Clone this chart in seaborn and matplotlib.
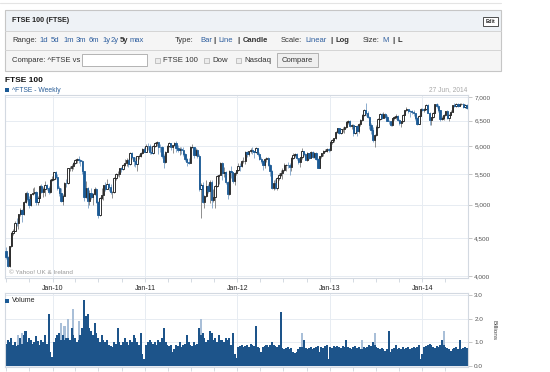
import numpy as np
import pandas as pd
import matplotlib
matplotlib.use("Agg")
import matplotlib.pyplot as plt
import matplotlib.dates as mdates
import matplotlib.ticker as mticker
from matplotlib.patches import Rectangle
import seaborn as sns

# weekly FTSE 100 candles, Jul 2009 - Jun 2014
opens = [
    4330, 4243, 4128, 4389, 4577, 4608, 4722, 4718, 4851, 4909, 4852, 5044, 5190, 5082, 4988, 5162, 5190, 5200, 5045, 5105, 5297, 5194, 5245, 5322, 5261, 5197, 5402,
    5413, 5534, 5456, 5260, 5189, 5061, 5142, 5358, 5355, 5600, 5600, 5650, 5703, 5745, 5770, 5744, 5723, 5553, 5123, 5262, 5063, 5188, 5126, 5163, 5250, 5046,
    4838, 5106, 5159, 5313, 5258, 5332, 5275, 5195, 5201, 5440, 5502, 5509, 5598, 5592, 5657, 5703, 5741, 5675, 5876, 5797, 5733, 5669, 5812, 5812, 5871, 5955,
    5900, 6005, 6002, 5897, 5881, 6000, 6061, 6083, 5996, 5990, 5829, 5718, 5900, 6009, 6055, 5996, 6018, 6070, 5976, 5925, 5949, 5938, 5855, 5766, 5714, 5697,
    5990, 5991, 5844, 5935, 5815, 5247, 5320, 5040, 5130, 5292, 5215, 5368, 5067, 5128, 5303, 5467, 5488, 5702, 5527, 5545, 5362, 5164, 5552, 5529, 5387, 5512,
    5572, 5650, 5636, 5728, 5734, 5901, 5852, 5905, 5935, 5912, 5888, 5966, 5855, 5768, 5723, 5651, 5772, 5777, 5655, 5554, 5267, 5351, 5260, 5435, 5478, 5514,
    5571, 5663, 5666, 5651, 5627, 5788, 5847, 5852, 5776, 5711, 5795, 5916, 5853, 5742, 5871, 5793, 5896, 5807, 5869, 5769, 5606, 5819, 5867, 5914, 5921, 5958,
    5925, 6089, 6121, 6154, 6284, 6347, 6263, 6328, 6335, 6379, 6483, 6489, 6392, 6412, 6249, 6384, 6286, 6426, 6521, 6624, 6723, 6654, 6583, 6411, 6308, 6116,
    6215, 6375, 6544, 6630, 6554, 6647, 6583, 6499, 6492, 6413, 6547, 6583, 6596, 6512, 6453, 6487, 6623, 6721, 6735, 6708, 6693, 6674, 6651, 6552, 6440, 6606,
    6750, 6731, 6740, 6829, 6663, 6510, 6571, 6663, 6838, 6810, 6712, 6528, 6557, 6616, 6695, 6562, 6625, 6685, 6822, 6814, 6855, 6815, 6845, 6858, 6778, 6826,
]
highs = [
    4380, 4260, 4400, 4590, 4630, 4750, 4800, 4860, 4940, 4930, 5060, 5200, 5220, 5140, 5170, 5260, 5280, 5210, 5130, 5310, 5330, 5280, 5380, 5340, 5300, 5410, 5460,
    5540, 5560, 5500, 5300, 5260, 5170, 5370, 5420, 5610, 5650, 5670, 5720, 5760, 5790, 5830, 5770, 5740, 5560, 5390, 5280, 5240, 5270, 5190, 5290, 5270, 5060,
    5120, 5260, 5320, 5360, 5410, 5350, 5330, 5220, 5450, 5520, 5560, 5610, 5630, 5680, 5770, 5780, 5770, 5900, 5890, 5810, 5800, 5830, 5850, 5900, 5970, 5990,
    6040, 6060, 6040, 6000, 6020, 6080, 6100, 6090, 6050, 6010, 5850, 5920, 6030, 6090, 6060, 6030, 6090, 6100, 6030, 5980, 5990, 5990, 5880, 5790, 5790, 6000,
    6050, 5995, 5960, 5950, 5850, 5350, 5370, 5160, 5400, 5330, 5400, 5400, 5250, 5320, 5480, 5500, 5720, 5710, 5620, 5560, 5380, 5580, 5640, 5540, 5530, 5580,
    5700, 5700, 5740, 5800, 5910, 5920, 5920, 5960, 5990, 5920, 5990, 5970, 5900, 5810, 5740, 5790, 5800, 5810, 5680, 5570, 5400, 5420, 5450, 5520, 5580, 5600,
    5700, 5680, 5720, 5690, 5810, 5870, 5880, 5870, 5790, 5810, 5960, 5920, 5870, 5900, 5880, 5920, 5910, 5890, 5900, 5780, 5830, 5880, 5930, 5950, 5970, 5970,
    6100, 6130, 6160, 6290, 6350, 6360, 6340, 6380, 6400, 6490, 6520, 6510, 6440, 6440, 6400, 6410, 6450, 6540, 6640, 6740, 6880, 6700, 6600, 6450, 6380, 6240,
    6410, 6560, 6650, 6650, 6670, 6660, 6610, 6520, 6500, 6560, 6600, 6630, 6620, 6530, 6500, 6630, 6730, 6780, 6740, 6730, 6720, 6720, 6660, 6570, 6620, 6760,
    6770, 6770, 6840, 6840, 6680, 6580, 6680, 6850, 6860, 6840, 6720, 6600, 6640, 6710, 6720, 6640, 6720, 6830, 6860, 6880, 6870, 6870, 6880, 6870, 6850, 6840,
]
lows = [
    4220, 4110, 4120, 4380, 4540, 4600, 4680, 4640, 4830, 4740, 4840, 5030, 5060, 4950, 4980, 5150, 5170, 4990, 5000, 5100, 5180, 5120, 5140, 5230, 5170, 5190, 5390,
    5400, 5420, 5240, 5140, 5040, 5000, 5130, 5290, 5340, 5560, 5560, 5590, 5680, 5700, 5700, 5640, 5500, 5050, 5110, 4950, 5000, 5090, 5000, 5150, 5030, 4790,
    4830, 5090, 5080, 5210, 5250, 5220, 5170, 5100, 5190, 5400, 5470, 5450, 5540, 5580, 5640, 5650, 5630, 5660, 5770, 5650, 5620, 5560, 5770, 5800, 5860, 5890,
    5890, 5940, 5850, 5860, 5850, 5980, 6010, 5860, 5900, 5790, 5600, 5700, 5890, 5980, 5930, 5870, 6000, 5900, 5890, 5840, 5860, 5830, 5730, 5640, 5680, 5690,
    5960, 5780, 5820, 5780, 5220, 4790, 5030, 4950, 5120, 5180, 5030, 4940, 5040, 4940, 5290, 5340, 5480, 5400, 5450, 5330, 5090, 5150, 5440, 5350, 5320, 5490,
    5560, 5560, 5620, 5690, 5680, 5810, 5820, 5880, 5850, 5780, 5870, 5820, 5740, 5690, 5580, 5610, 5720, 5640, 5460, 5250, 5230, 5250, 5230, 5400, 5460, 5420,
    5560, 5550, 5600, 5480, 5560, 5760, 5800, 5740, 5680, 5620, 5760, 5820, 5740, 5730, 5760, 5790, 5780, 5790, 5740, 5600, 5600, 5780, 5830, 5890, 5900, 5900,
    5920, 6050, 6090, 6140, 6250, 6230, 6240, 6280, 6250, 6360, 6430, 6370, 6330, 6200, 6230, 6190, 6260, 6400, 6500, 6600, 6600, 6550, 6340, 6230, 6080, 5990,
    6200, 6360, 6520, 6540, 6550, 6560, 6490, 6430, 6400, 6400, 6510, 6540, 6490, 6420, 6370, 6470, 6610, 6700, 6650, 6580, 6630, 6600, 6510, 6420, 6430, 6600,
    6700, 6670, 6720, 6650, 6420, 6420, 6550, 6650, 6760, 6680, 6500, 6510, 6520, 6600, 6540, 6500, 6620, 6670, 6780, 6790, 6790, 6800, 6830, 6760, 6760, 6740,
]
closes = [
    4243, 4128, 4389, 4577, 4608, 4722, 4718, 4851, 4909, 4852, 5044, 5190, 5082, 4988, 5162, 5190, 5200, 5045, 5105, 5297, 5194, 5245, 5322, 5261, 5197, 5402, 5413,
    5534, 5456, 5260, 5189, 5061, 5142, 5358, 5355, 5600, 5600, 5650, 5703, 5745, 5770, 5744, 5723, 5553, 5123, 5262, 5063, 5188, 5126, 5163, 5250, 5046, 4838,
    5106, 5159, 5313, 5258, 5332, 5275, 5195, 5201, 5440, 5502, 5509, 5598, 5592, 5657, 5703, 5741, 5675, 5876, 5797, 5733, 5669, 5812, 5812, 5871, 5955, 5900,
    6005, 6002, 5897, 5881, 6000, 6061, 6083, 5996, 5990, 5829, 5718, 5900, 6009, 6055, 5996, 6018, 6070, 5976, 5925, 5949, 5938, 5855, 5766, 5714, 5697, 5990,
    5991, 5844, 5935, 5815, 5247, 5320, 5040, 5130, 5292, 5215, 5368, 5067, 5128, 5303, 5467, 5488, 5702, 5527, 5545, 5362, 5164, 5552, 5529, 5387, 5512, 5572,
    5650, 5636, 5728, 5734, 5901, 5852, 5905, 5935, 5912, 5888, 5966, 5855, 5768, 5723, 5651, 5772, 5777, 5655, 5554, 5267, 5351, 5260, 5435, 5478, 5514, 5571,
    5663, 5666, 5651, 5627, 5788, 5847, 5852, 5776, 5711, 5795, 5916, 5853, 5742, 5871, 5793, 5896, 5807, 5869, 5769, 5606, 5819, 5867, 5914, 5921, 5958, 5925,
    6089, 6121, 6154, 6284, 6347, 6263, 6328, 6335, 6379, 6483, 6489, 6392, 6412, 6249, 6384, 6286, 6426, 6521, 6624, 6723, 6654, 6583, 6411, 6308, 6116, 6215,
    6375, 6544, 6630, 6554, 6647, 6583, 6499, 6492, 6413, 6547, 6583, 6596, 6512, 6453, 6487, 6623, 6721, 6735, 6708, 6693, 6674, 6651, 6552, 6440, 6606, 6750,
    6731, 6740, 6829, 6663, 6510, 6571, 6663, 6838, 6810, 6712, 6528, 6557, 6616, 6695, 6562, 6625, 6685, 6822, 6814, 6855, 6815, 6845, 6858, 6778, 6826, 6758,
]
# weekly volume in billions (dark bars)
volumes = [
    0.95, 1.1, 1.0, 1.2, 0.9, 1.0, 0.85, 0.9, 1.2, 0.95, 1.3, 1.5, 1.0, 1.2, 1.1, 0.95, 1.0, 1.25, 1.05, 0.9, 1.1, 1.0, 1.3, 0.95, 2.2, 0.6, 0.4,
    1.0, 1.2, 1.3, 1.4, 1.1, 1.3, 1.1, 1.2, 1.2, 1.1, 1.6, 1.3, 1.2, 1.0, 1.1, 1.3, 1.6, 2.8, 2.1, 2.2, 1.6, 1.5, 1.3, 1.8, 1.4, 1.2,
    1.0, 1.3, 1.1, 1.0, 1.1, 0.9, 0.85, 0.8, 1.0, 0.95, 1.6, 1.0, 0.9, 1.0, 1.2, 1.0, 0.9, 1.1, 1.0, 1.3, 1.2, 1.0, 0.9, 1.4, 0.5, 0.3,
    0.9, 1.0, 1.1, 1.0, 0.95, 1.0, 0.9, 1.1, 1.0, 1.2, 1.6, 1.0, 0.9, 0.85, 0.9, 0.6, 0.7, 0.9, 0.85, 1.0, 0.8, 0.9, 0.95, 1.3, 1.0, 0.9,
    0.85, 1.0, 0.9, 0.95, 1.6, 1.3, 1.4, 1.2, 1.0, 1.1, 1.5, 1.4, 1.1, 1.2, 1.0, 1.3, 1.1, 1.1, 1.0, 1.2, 1.1, 1.2, 0.9, 1.4, 0.5, 0.35,
    0.8, 0.85, 0.9, 0.8, 0.85, 0.9, 0.8, 0.95, 0.9, 0.85, 1.7, 0.8, 0.75, 0.6, 0.8, 0.85, 0.9, 0.8, 0.9, 1.0, 0.9, 0.85, 0.8, 0.9, 2.3, 0.75,
    0.7, 0.75, 0.8, 0.7, 0.75, 0.6, 0.55, 0.6, 0.7, 0.8, 0.8, 1.1, 0.75, 0.7, 0.75, 0.8, 0.7, 0.75, 0.8, 0.85, 0.6, 0.8, 0.75, 0.85, 0.9, 0.3,
    0.8, 0.75, 0.85, 0.8, 0.85, 0.8, 0.75, 0.85, 0.8, 1.1, 0.8, 0.75, 0.7, 0.8, 0.85, 0.75, 0.8, 0.7, 0.7, 0.8, 0.75, 0.8, 0.9, 0.85, 1.0, 0.9,
    0.8, 0.75, 0.7, 0.75, 0.7, 0.65, 0.7, 1.5, 0.6, 0.7, 0.75, 0.9, 0.7, 0.75, 0.7, 0.8, 0.7, 0.75, 0.8, 0.7, 0.75, 0.8, 0.75, 0.8, 0.9, 0.3,
    0.5, 0.8, 0.85, 0.9, 0.95, 0.9, 0.8, 0.75, 0.85, 0.8, 0.9, 1.1, 0.9, 0.8, 0.75, 0.7, 0.65, 0.7, 0.75, 0.8, 0.7, 1.1, 0.7, 0.75, 0.8, 0.75,
]
# lighter volume peaks showing above the dark bars: (week index, height)
light_weeks = [7, 9, 31, 33, 35, 38, 41, 110, 167, 201, 208, 247]
light_peaks = [1.3, 1.4, 1.8, 1.7, 2.0, 2.4, 1.9, 2.0, 1.4, 1.1, 1.4, 1.5]

price_ticks = [4000, 4500, 5000, 5500, 6000, 6500, 7000]
volume_ticks = [0.0, 1.0, 2.0, 3.0]

W, H = 550, 372
DARK_BLUE = "#1b5a95"
LINK = "#2f5f9f"
TXT = "#333333"

sns.set_style("white")
plt.rcParams["font.family"] = ["Liberation Sans", "DejaVu Sans"]

week_end = pd.date_range("2009-07-03", periods=len(closes), freq="W-FRI")
mid = mdates.date2num(week_end - pd.Timedelta(days=2))
o, h, l, c = (np.array(a, dtype=float) for a in (opens, highs, lows, closes))
up = c >= o


def rect(left, top, right, bottom):
    return [left / W, 1 - bottom / H, (right - left) / W, (bottom - top) / H]


fig = plt.figure(figsize=(5.5, 3.72), dpi=100)
ax = fig.add_axes(rect(5, 95, 468, 278))
axv = fig.add_axes(rect(5, 293, 468, 367))
bg = fig.add_axes([0, 0, 1, 1], zorder=10)
bg.set_xlim(0, W)
bg.set_ylim(H, 0)
bg.axis("off")
bg.patch.set_alpha(0)

xlim = (mdates.date2num(pd.Timestamp("2009-06-27")), mdates.date2num(pd.Timestamp("2014-06-30")))

# price candles
ax.vlines(mid[up], l[up], h[up], color="#7c7c7c", lw=0.6, zorder=2)
ax.vlines(mid[~up], l[~up], h[~up], color="#7aa0c6", lw=0.6, zorder=2)
ax.bar(mid[up], c[up] - o[up], bottom=o[up], width=5.2, facecolor="white",
       edgecolor="#111111", linewidth=0.6, zorder=3)
ax.bar(mid[~up], c[~up] - o[~up], bottom=o[~up], width=5.2, facecolor=DARK_BLUE,
       edgecolor=DARK_BLUE, linewidth=0.6, zorder=3)

ax.set_yscale("log")
ax.set_ylim(3975, 7044)
ax.set_xlim(*xlim)
ax.yaxis.set_major_locator(mticker.FixedLocator(price_ticks))
ax.yaxis.set_minor_locator(mticker.NullLocator())
ax.yaxis.set_major_formatter(mticker.FuncFormatter(lambda v, p: f"{v:,.0f}"))
ax.yaxis.tick_right()

# volume bars: light peaks behind, dark weekly bars in front
vol_df = pd.concat([
    pd.DataFrame({"mid": mid, "vol": volumes, "shade": "dark"}),
    pd.DataFrame({"mid": mid[light_weeks], "vol": light_peaks, "shade": "light"}),
], ignore_index=True)
edges = list(mid - 3.5) + [mid[-1] + 3.5]
sns.histplot(data=vol_df, x="mid", weights="vol", hue="shade", hue_order=["dark", "light"],
             bins=edges, palette={"dark": "#1d548a", "light": "#a9bfd8"}, multiple="layer",
             alpha=1, linewidth=0, legend=False, ax=axv, shrink=1.15)
axv.set_xlim(*xlim)
axv.set_ylim(-0.04, 3.085)
axv.yaxis.set_major_locator(mticker.FixedLocator(volume_ticks))
axv.yaxis.set_major_formatter(mticker.FormatStrFormatter("%.1f"))
axv.yaxis.tick_right()
axv.set_xlabel("")
axv.set_ylabel("")

for a in (ax, axv):
    a.xaxis.set_major_locator(mdates.YearLocator())
    a.xaxis.set_minor_locator(mdates.MonthLocator(bymonth=(4, 7, 10)))
    a.grid(True, which="major", color="#e7ecf2", lw=0.7)
    a.set_axisbelow(True)
    for s in a.spines.values():
        s.set_color("#d3d9e1")
        s.set_linewidth(0.8)
    a.tick_params(axis="x", which="both", bottom=True, length=3, width=0.5, color="#c4ccd6")
    a.tick_params(axis="y", right=True, left=False, length=3, width=0.5, color="#b0b0b0",
                  labelsize=4.6, labelcolor="#555555", pad=1.5)

ax.xaxis.set_major_formatter(mdates.DateFormatter("%b-%y"))
ax.tick_params(axis="x", labelsize=5.0, labelcolor="#222222", pad=2)
axv.tick_params(axis="x", labelbottom=False)


def txt(x, y, s, size=5.4, color=TXT, bold=False, **kw):
    bg.text(x, y, s, fontsize=size, color=color, fontweight="bold" if bold else "normal",
            va="center", **kw)


# page header
bg.plot([0, 501], [3, 3], color="#e4e4e4", lw=0.8)
bg.add_patch(Rectangle((5, 10), 496, 21, facecolor="#eef2f6", edgecolor="none"))
bg.add_patch(Rectangle((5, 31), 496, 40, facecolor="#f5f5f5", edgecolor="none"))
bg.plot([5, 501], [31, 31], color="#d4d4d4", lw=0.7)
bg.plot([5, 501], [50, 50], color="#d4d4d4", lw=0.7)
bg.add_patch(Rectangle((5, 10), 496, 61, fill=False, edgecolor="#c6c6c6", lw=0.8))
txt(12, 21, "FTSE 100 (FTSE)", size=5.1, color="#222222", bold=True)
bg.add_patch(Rectangle((483, 17), 15, 9, facecolor="white", edgecolor="#333333", lw=0.6))
txt(490.5, 21.5, "Edit", size=3.6, color="#222222", bold=True, ha="center")

row2 = [
    (12, "Range:", TXT, False), (39, "1d", LINK, False), (51, "5d", LINK, False),
    (63, "1m", LINK, False), (76, "3m", LINK, False), (89, "6m", LINK, False),
    (102, "1y", LINK, False), (111, "2y", LINK, False), (120, "5y", TXT, True),
    (130, "max", LINK, False), (175, "Type:", TXT, False), (200, "Bar", LINK, False),
    (213, "|", TXT, True), (218, "Line", LINK, False), (237, "|", TXT, True),
    (243, "Candle", TXT, True), (281, "Scale:", TXT, False), (305, "Linear", LINK, False),
    (330, "|", TXT, True), (335, "Log", TXT, True), (363, "Size:", TXT, False),
    (382, "M", LINK, False), (392, "|", TXT, True), (397, "L", TXT, True),
]
for x, s, col, b in row2:
    txt(x, 41, s, size=5.5, color=col, bold=b)

txt(12, 60.5, "Compare: ^FTSE vs", size=5.5)
bg.add_patch(Rectangle((82, 54), 65, 12, facecolor="white", edgecolor="#a8a8a8", lw=0.6))
for bx, label in [(155, "FTSE 100"), (204, "Dow"), (236, "Nasdaq")]:
    bg.add_patch(Rectangle((bx, 57.5), 5, 5, facecolor="#ececec", edgecolor="#a0a0a0", lw=0.4))
    txt(bx + 8, 60.5, label, size=5.6)
bg.add_patch(Rectangle((277, 53), 41, 14, facecolor="#efefef", edgecolor="#a8a8a8", lw=0.6))
txt(297.5, 60.5, "Compare", size=5.5, ha="center")

# chart titles and notes
txt(5, 81, "FTSE 100", size=6.0, color="#111111", bold=True)
bg.add_patch(Rectangle((5, 88), 4, 4, facecolor=DARK_BLUE, edgecolor="none"))
txt(12, 90, "^FTSE - Weekly", size=4.9, color="#2a5e98")
txt(467, 90, "27 Jun, 2014", size=4.8, color="#a8a8a8", ha="right")
txt(9, 272, "\u00a9 Yahoo! UK & Ireland", size=4.6, color="#9a9a9a")
bg.add_patch(Rectangle((5, 299), 4, 4, facecolor=DARK_BLUE, edgecolor="none"))
txt(12, 301, "Volume", size=5.0, color="#222222")
bg.text(494, 330, "Billions", fontsize=4.6, color="#444444", rotation=270, ha="center", va="center")

fig.savefig("out.png", dpi=100)
